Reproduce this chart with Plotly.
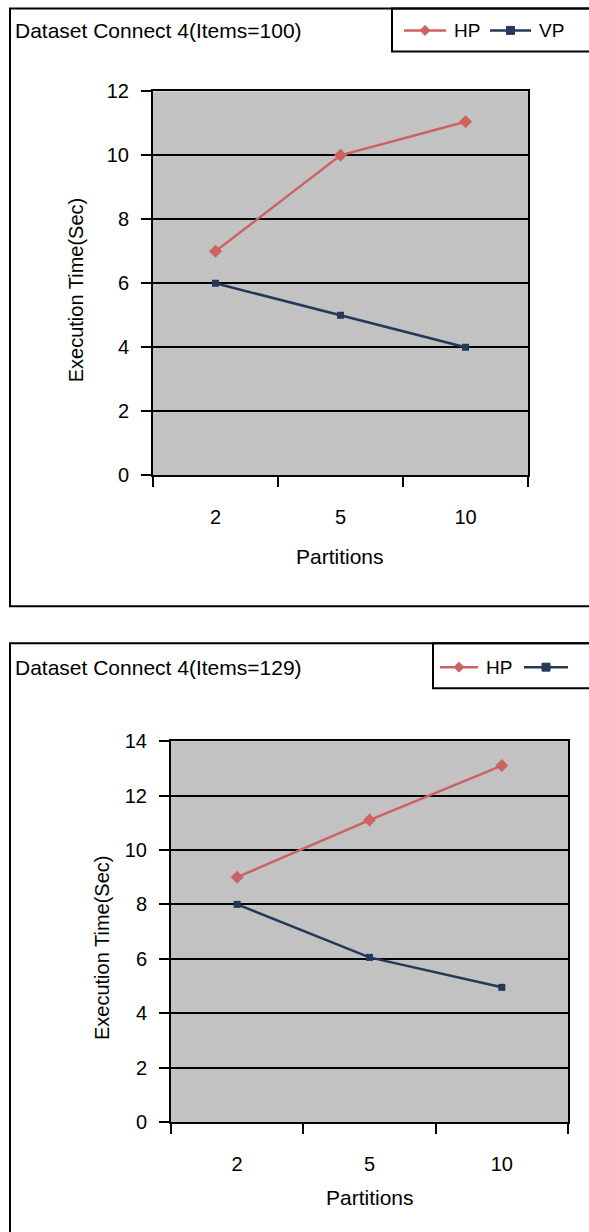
import plotly.graph_objects as go

W, H = 589, 1232

partitions = ["2", "5", "10"]
hp_100 = [7.0, 10.0, 11.05]
vp_100 = [6.0, 5.0, 4.0]
hp_129 = [9.0, 11.1, 13.1]
vp_129 = [8.0, 6.05, 4.95]
y_ticks_100 = [0, 2, 4, 6, 8, 10, 12]
y_ticks_129 = [0, 2, 4, 6, 8, 10, 12, 14]

HP_COLOR = "#cc6262"
VP_COLOR = "#24395a"
BG = "#c2c2c2"
FONT = "Liberation Sans, Arial, sans-serif"


def px(x):
    return x / W


def py(y):
    # target pixel row -> paper coordinate (compensating observed vertical offset)
    ys = (y - 10.6) / 0.9825
    return 1 - ys / H


fig = go.Figure()

for data, name, color, sym, ms, xa, ya in [
    (hp_100, "HP", HP_COLOR, "diamond", 10, "x", "y"),
    (vp_100, "VP", VP_COLOR, "square", 7, "x", "y"),
    (hp_129, "HP", HP_COLOR, "diamond", 10, "x2", "y2"),
    (vp_129, "VP", VP_COLOR, "square", 7, "x2", "y2"),
]:
    fig.add_trace(go.Scatter(
        x=partitions, y=data, name=name, mode="lines+markers",
        line=dict(color=color, width=2.5),
        marker=dict(symbol=sym, size=ms, color=color),
        xaxis=xa, yaxis=ya, showlegend=False,
    ))

axis_font = dict(family=FONT, size=20, color="black")

common_x = dict(
    type="category", tickson="boundaries", ticks="outside", ticklen=10,
    tickwidth=1.5, tickcolor="black", showgrid=False, showline=True,
    linecolor="black", linewidth=2, mirror=True, tickfont=axis_font,
    range=[-0.5, 2.5], ticklabelstandoff=23, zeroline=False,
)
common_y = dict(
    ticks="outside", ticklen=10, tickwidth=1.5, tickcolor="black",
    showgrid=True, gridcolor="black", gridwidth=2.2, showline=True,
    linecolor="black", linewidth=2, mirror=True, tickfont=axis_font,
    zeroline=False, ticklabelstandoff=8,
)

fig.update_layout(
    width=W, height=H, margin=dict(l=0, r=0, t=0, b=0),
    paper_bgcolor="white", plot_bgcolor=BG, showlegend=False,
    font=dict(family=FONT, color="black"),
    xaxis=dict(domain=[px(153), px(528)], anchor="y", **common_x),
    yaxis=dict(domain=[py(475), py(91)], anchor="x", range=[0, 12],
               tickvals=y_ticks_100, **common_y),
    xaxis2=dict(domain=[px(171), px(568)], anchor="y2", **common_x),
    yaxis2=dict(domain=[py(1122), py(741)], anchor="x2", range=[0, 14],
                tickvals=y_ticks_129, **common_y),
)

shapes = []
annotations = []

# outer frames and legend frames
for (x0, y0, x1, y1) in [(10, 8, 620, 606), (10, 643, 620, 1260),
                         (392, 8, 620, 51), (433, 643, 620, 688)]:
    shapes.append(dict(type="rect", xref="paper", yref="paper",
                       x0=px(x0), y0=py(y0), x1=px(x1), y1=py(y1),
                       line=dict(color="black", width=2), fillcolor="rgba(0,0,0,0)"))


def legend_item(x_line0, x_line1, y, color, symbol, label, x_text):
    shapes.append(dict(type="line", xref="paper", yref="paper",
                       x0=px(x_line0), y0=py(y), x1=px(x_line1), y1=py(y),
                       line=dict(color=color, width=2.5)))
    cx = (x_line0 + x_line1) / 2
    if symbol == "diamond":
        path = (f"M {px(cx - 5)} {py(y)} L {px(cx)} {py(y - 5)} "
                f"L {px(cx + 5)} {py(y)} L {px(cx)} {py(y + 5)} Z")
        shapes.append(dict(type="path", xref="paper", yref="paper", path=path,
                           fillcolor=color, line=dict(color=color, width=1)))
    else:
        shapes.append(dict(type="rect", xref="paper", yref="paper",
                           x0=px(cx - 4), y0=py(y - 4), x1=px(cx + 4), y1=py(y + 4),
                           fillcolor=color, line=dict(color=color, width=1)))
    if label:
        annotations.append(dict(text=label, xref="paper", yref="paper",
                                x=px(x_text), y=py(y), xanchor="left", yanchor="middle",
                                showarrow=False,
                                font=dict(family=FONT, size=19, color="black")))


legend_item(404, 446, 30, HP_COLOR, "diamond", "HP", 452)
legend_item(490, 531, 30, VP_COLOR, "square", "VP", 537)
legend_item(440, 478, 667, HP_COLOR, "diamond", "HP", 484)
legend_item(524, 568, 667, VP_COLOR, "square", "", 0)

title_font = dict(family=FONT, size=21, color="black")
annotations += [
    dict(text="Dataset Connect 4(Items=100)", x=px(13), y=py(30), xanchor="left",
         yanchor="middle", xref="paper", yref="paper", showarrow=False, font=title_font),
    dict(text="Dataset Connect 4(Items=129)", x=px(13), y=py(667), xanchor="left",
         yanchor="middle", xref="paper", yref="paper", showarrow=False, font=title_font),
    dict(text="Execution Time(Sec)", x=px(76), y=py(290), textangle=-90,
         xanchor="center", yanchor="middle", xref="paper", yref="paper",
         showarrow=False, font=dict(family=FONT, size=20, color="black")),
    dict(text="Execution Time(Sec)", x=px(102), y=py(948), textangle=-90,
         xanchor="center", yanchor="middle", xref="paper", yref="paper",
         showarrow=False, font=dict(family=FONT, size=20, color="black")),
    dict(text="Partitions", x=px(340), y=py(556), xanchor="center", yanchor="middle",
         xref="paper", yref="paper", showarrow=False,
         font=dict(family=FONT, size=21, color="black")),
    dict(text="Partitions", x=px(370), y=py(1198), xanchor="center", yanchor="middle",
         xref="paper", yref="paper", showarrow=False,
         font=dict(family=FONT, size=21, color="black")),
]

fig.update_layout(shapes=shapes, annotations=annotations)
fig.write_html("out.html")
